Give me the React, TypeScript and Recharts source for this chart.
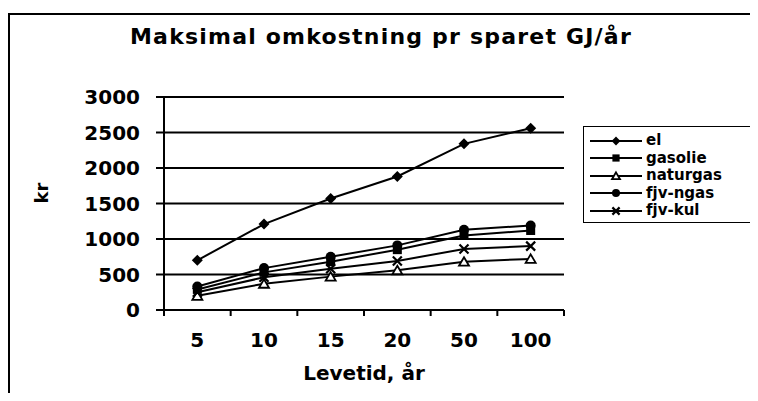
import React from "react";
import { LineChart, Line, XAxis, YAxis, CartesianGrid } from "recharts";

const years = ["5", "10", "15", "20", "50", "100"];
const el = [700, 1210, 1570, 1880, 2340, 2560];
const gasolie = [290, 530, 680, 850, 1050, 1120];
const naturgas = [200, 370, 470, 560, 680, 720];
const fjvNgas = [330, 590, 750, 910, 1130, 1190];
const fjvKul = [250, 460, 580, 690, 860, 900];
const yTicks = [0, 500, 1000, 1500, 2000, 2500, 3000];

const data = years.map((year, i) => ({
  year,
  el: el[i],
  gasolie: gasolie[i],
  naturgas: naturgas[i],
  "fjv-ngas": fjvNgas[i],
  "fjv-kul": fjvKul[i],
}));

const FONT = "'DejaVu Sans', Verdana, sans-serif";
const PLOT_W = 400;
const STEP = PLOT_W / years.length;

type MarkerKind = "diamond" | "square" | "triangle" | "circle" | "cross";

function Marker({ kind, cx, cy, s = 1 }: { kind: MarkerKind; cx: number; cy: number; s?: number }) {
  if (cx == null || cy == null) return null;
  switch (kind) {
    case "diamond":
      return <path d={`M${cx},${cy - 5.5 * s}L${cx + 5.5 * s},${cy}L${cx},${cy + 5.5 * s}L${cx - 5.5 * s},${cy}Z`} fill="#000" />;
    case "square":
      return <rect x={cx - 4.5 * s} y={cy - 4.5 * s} width={9 * s} height={9 * s} fill="#000" />;
    case "triangle":
      return (
        <path
          d={`M${cx},${cy - 4.5 * s}L${cx + 5 * s},${cy + 4 * s}L${cx - 5 * s},${cy + 4 * s}Z`}
          fill="#fff"
          stroke="#000"
          strokeWidth={1.8}
        />
      );
    case "circle":
      return <circle cx={cx} cy={cy} r={5 * s} fill="#000" />;
    default:
      return (
        <path
          d={`M${cx - 4.5 * s},${cy - 4.5 * s}L${cx + 4.5 * s},${cy + 4.5 * s}M${cx + 4.5 * s},${cy - 4.5 * s}L${cx - 4.5 * s},${cy + 4.5 * s}`}
          stroke="#000"
          strokeWidth={2.2}
        />
      );
  }
}

const series: { key: string; kind: MarkerKind }[] = [
  { key: "el", kind: "diamond" },
  { key: "gasolie", kind: "square" },
  { key: "naturgas", kind: "triangle" },
  { key: "fjv-ngas", kind: "circle" },
  { key: "fjv-kul", kind: "cross" },
];

function XTick(props: any) {
  const { x, y, payload, index } = props;
  const axisY = y - 6;
  return (
    <g>
      <line x1={x - STEP / 2} x2={x - STEP / 2} y1={axisY} y2={axisY + 6} stroke="#000" strokeWidth={2} />
      {index === years.length - 1 && (
        <line x1={x + STEP / 2} x2={x + STEP / 2} y1={axisY} y2={axisY + 6} stroke="#000" strokeWidth={2} />
      )}
      <text x={x} y={axisY + 37} textAnchor="middle" fontFamily={FONT} fontSize={20} fontWeight="bold" fill="#000">
        {payload.value}
      </text>
    </g>
  );
}

function LegendBox() {
  return (
    <div
      style={{
        position: "absolute",
        left: 583,
        top: 126,
        width: 173,
        height: 97,
        border: "1.5px solid #000",
        background: "#fff",
        padding: "5px 0 0 0",
        boxSizing: "border-box",
      }}
    >
      {series.map((s) => (
        <div key={s.key} style={{ display: "flex", alignItems: "center", height: 17.5 }}>
          <svg width={62} height={16} style={{ flexShrink: 0 }}>
            <line x1={6} x2={58} y1={8} y2={8} stroke="#000" strokeWidth={2} />
            <Marker kind={s.kind} cx={32} cy={8} s={0.8} />
          </svg>
          <span style={{ fontFamily: FONT, fontSize: 15, fontWeight: "bold", color: "#000", lineHeight: "17px", whiteSpace: "nowrap" }}>
            {s.key}
          </span>
        </div>
      ))}
    </div>
  );
}

export default function App() {
  return (
    <div style={{ position: "relative", margin: -8, width: 758, height: 401, background: "#fff", overflow: "hidden" }}>
      <div
        style={{
          position: "absolute",
          left: 8,
          top: 13,
          width: 800,
          height: 450,
          borderLeft: "2px solid #000",
          borderTop: "2px solid #000",
        }}
      />
      <div
        style={{
          position: "absolute",
          left: 0,
          top: 23,
          width: 762,
          textAlign: "center",
          fontFamily: FONT,
          fontWeight: "bold",
          fontSize: 22,
          letterSpacing: 1.2,
          lineHeight: "28px",
          color: "#000",
          whiteSpace: "nowrap",
        }}
      >
        Maksimal omkostning pr sparet GJ/år
      </div>
      <div style={{ position: "absolute", left: 0, top: 0 }}>
        <LineChart
          width={758}
          height={401}
          data={data}
          margin={{ top: 97, right: 194, bottom: 0, left: 60 }}
        >
          <CartesianGrid horizontal vertical={false} stroke="#000" strokeWidth={2} />
          <XAxis
            dataKey="year"
            axisLine={{ stroke: "#000", strokeWidth: 2 }}
            tickLine={false}
            tickSize={6}
            tickMargin={0}
            height={91}
            padding={{ left: STEP / 2, right: STEP / 2 }}
            tick={<XTick />}
            interval={0}
            label={{
              value: "Levetid, år",
              position: "insideTop",
              offset: 56,
              fontFamily: FONT,
              fontSize: 20,
              fontWeight: "bold",
              fill: "#000",
            }}
          />
          <YAxis
            width={104}
            domain={[0, 3000]}
            ticks={yTicks}
            axisLine={{ stroke: "#000", strokeWidth: 2 }}
            tickLine={{ stroke: "#000", strokeWidth: 2 }}
            tickSize={8}
            tickMargin={16}
            tick={{ fontFamily: FONT, fontSize: 20, fontWeight: "bold", fill: "#000" }}
            label={{
              value: "kr",
              angle: -90,
              position: "insideLeft",
              offset: 0,
              dx: -18,
              fontFamily: FONT,
              fontSize: 18,
              fontWeight: "bold",
              fill: "#000",
            }}
          />
          {series.map((s) => (
            <Line
              key={s.key}
              dataKey={s.key}
              stroke="#000"
              strokeWidth={2}
              isAnimationActive={false}
              dot={(p: any) => <Marker key={`${s.key}-${p.index}`} kind={s.kind} cx={p.cx} cy={p.cy} />}
              activeDot={false}
            />
          ))}
        </LineChart>
      </div>
      <LegendBox />
    </div>
  );
}
